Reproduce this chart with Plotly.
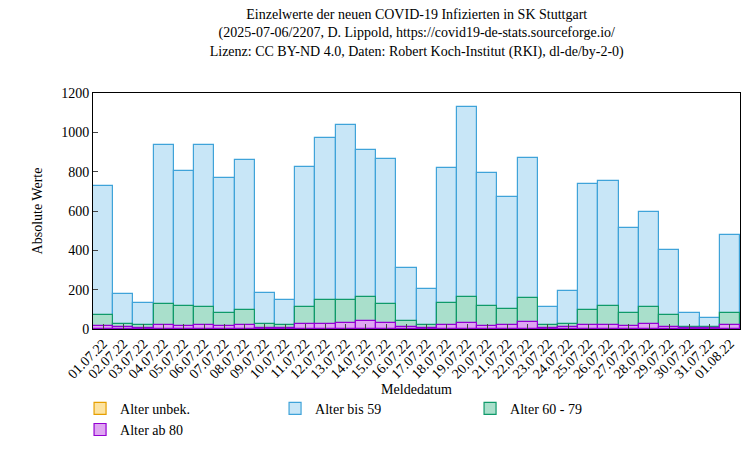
import plotly.graph_objects as go

dates = ["01.07.22","02.07.22","03.07.22","04.07.22","05.07.22","06.07.22","07.07.22","08.07.22",
         "09.07.22","10.07.22","11.07.22","12.07.22","13.07.22","14.07.22","15.07.22","16.07.22",
         "17.07.22","18.07.22","19.07.22","20.07.22","21.07.22","22.07.22","23.07.22","24.07.22",
         "25.07.22","26.07.22","27.07.22","28.07.22","29.07.22","30.07.22","31.07.22","01.08.22"]
bis59 = [725,180,130,935,805,935,770,860,185,150,825,970,1035,910,865,310,
         205,820,1130,795,670,870,110,195,735,755,515,595,400,80,55,480]
a6079 = [70,25,20,125,115,110,80,95,25,20,110,145,150,165,125,40,
         20,130,165,115,100,160,20,25,95,115,80,110,70,10,10,80]
ab80 = [15,8,5,20,15,20,15,18,5,5,25,25,30,40,28,10,
        5,20,30,15,20,35,5,8,20,20,15,25,12,3,3,20]
unbek = [0]*32

fig = go.Figure()
series = [("Alter unbek.", unbek, "#fde3a0", "#e69f00"),
          ("Alter bis 59", bis59, "#c8e6f7", "#3fa3d9"),
          ("Alter 60 - 79", a6079, "#a9dfcb", "#0f9a6a"),
          ("Alter ab 80", ab80, "#dfa6f2", "#9400d3")]
for name, vals, fc, lc in series:
    fig.add_trace(go.Bar(x=dates, y=vals, name=name, marker=dict(color=fc, line=dict(color=lc, width=1.2)), width=1.0))

font = "Liberation Serif, Times New Roman, serif"
fig.update_layout(
    width=750, height=450, barmode="overlay", bargap=0,
    plot_bgcolor="white", paper_bgcolor="white",
    font=dict(family=font, size=14, color="black"),
    margin=dict(l=85, r=18, t=85, b=99),
    title=dict(text="Einzelwerte der neuen COVID-19 Infizierten in SK Stuttgart<br>(2025-07-06/2207, D. Lippold, https://covid19-de-stats.sourceforge.io/<br>Lizenz: CC BY-ND 4.0, Daten: Robert Koch-Institut (RKI), dl-de/by-2-0)",
               x=0.545, xanchor="center", yref="container", y=0.975, yanchor="top", font=dict(size=14)),
    xaxis=dict(title=dict(text="Meldedatum", standoff=0, font=dict(size=14)), tickangle=-45, showline=True, linecolor="black", mirror=True,
               ticks="inside", ticklen=5, range=[-0.5, 31.5], tickfont=dict(size=14), automargin=False),
    yaxis=dict(title=dict(text="Absolute Werte", font=dict(size=14)), range=[0, 1200], dtick=200, showline=True, linecolor="black",
               mirror=True, ticks="inside", ticklen=5, showgrid=False, zeroline=False, tickfont=dict(size=14), automargin=False),
    legend=dict(orientation="h", x=-0.02, y=-0.27, xanchor="left", yanchor="top", entrywidth=150, font=dict(size=14),
                traceorder="normal"),
)
fig.write_html("out.html")
